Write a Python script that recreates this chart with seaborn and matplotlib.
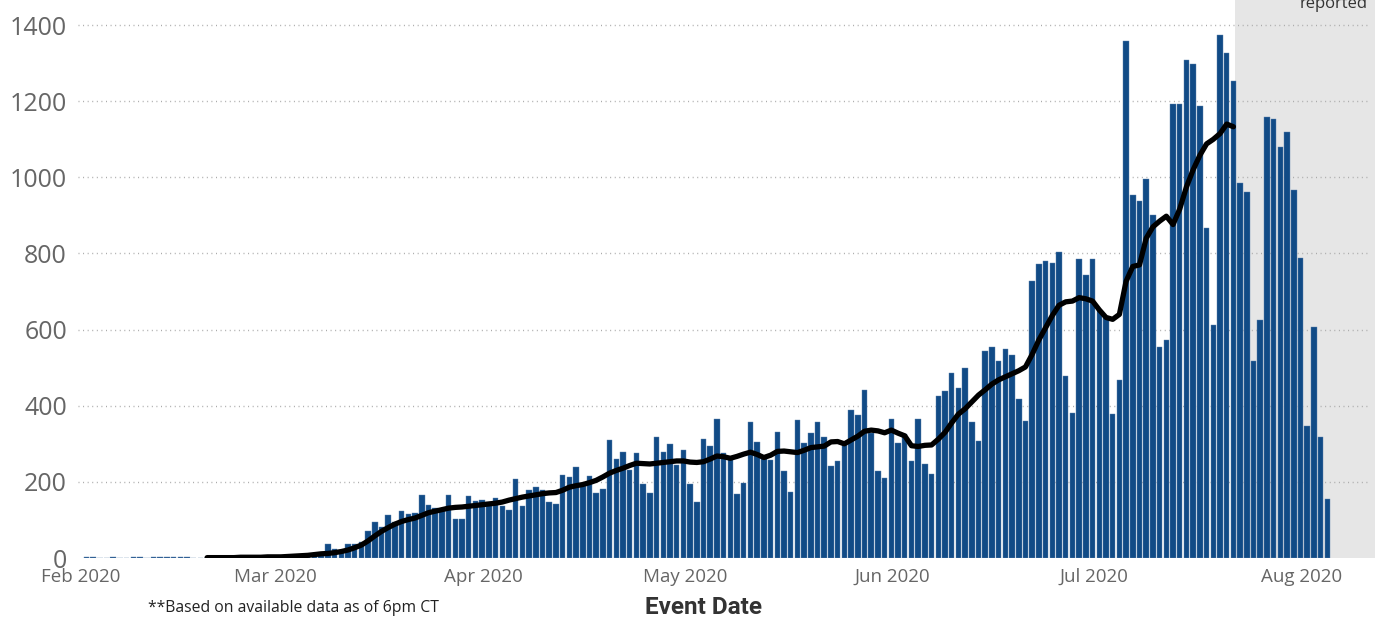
import pandas as pd
import matplotlib
matplotlib.use("Agg")
import matplotlib.pyplot as plt
import matplotlib.dates as mdates
import seaborn as sns

# daily cases by event date, starting 2020-02-01
first_day = "2020-02-01"
daily_cases = [
    2, 2, 0, 1, 2, 0, 0, 2, 2, 0, 2, 2, 2, 2, 2, 2, 1, 0, 1, 1,
    0, 1, 1, 2, 1, 3, 2, 3, 4, 3, 5, 6, 8, 7, 10, 14,
    36, 24, 20, 36, 38, 41, 71, 95, 81, 113, 95, 123, 115, 118, 165, 139,
    132, 125, 165, 102, 102, 163, 150, 152, 148, 157, 137, 126, 207, 137,
    179, 186, 179, 147, 142, 217, 214, 238, 190, 215, 172, 182, 310, 259,
    278, 231, 277, 194, 170, 319, 278, 300, 244, 283, 194, 148, 312, 293,
    365, 277, 262, 168, 196, 357, 305, 262, 258, 332, 228, 173, 363, 301,
    329, 356, 317, 242, 254, 297, 389, 377, 442, 328, 228, 210, 366, 303,
    325, 254, 366, 246, 220, 426, 438, 487, 447, 498, 356, 308, 545, 554,
    518, 550, 533, 417, 359, 729, 773, 781, 774, 805, 477, 380, 785, 744,
    785, 651, 630, 378, 468, 1359, 953, 938, 997, 901, 554, 573, 1194, 1194,
    1309, 1297, 1188, 868, 612, 1373, 1327, 1254, 985, 961, 517, 625, 1159,
    1153, 1079, 1118, 966, 789, 346, 608, 318, 154,
]

# 7-day average as drawn, starting 2020-02-19
avg_first_day = "2020-02-19"
avg_cases = [
    1, 1, 1, 1, 1, 2, 2, 2, 2, 3, 3, 3, 4, 5, 6, 7, 9,
    11, 12, 14, 17, 21, 27, 34, 45, 58, 70, 80, 89, 96, 101, 105, 112,
    119, 123, 127, 131, 133, 134, 136, 138, 140, 142, 144, 147, 152, 156,
    160, 163, 166, 169, 171, 172, 178, 186, 190, 193, 198, 204, 213, 223,
    230, 236, 243, 249, 248, 247, 249, 251, 253, 255, 255, 252, 251, 253,
    260, 268, 266, 262, 267, 273, 278, 272, 264, 270, 280, 281, 279, 277,
    283, 290, 292, 294, 305, 306, 300, 310, 320, 333, 336, 334, 329, 336,
    328, 321, 295, 293, 296, 297, 312, 330, 355, 378, 392, 410, 428, 442,
    457, 468, 476, 484, 492, 502, 535, 573, 605, 637, 664, 673, 675, 684,
    681, 675, 652, 632, 627, 640, 727, 766, 770, 840, 870, 885, 898, 876,
    917, 975, 1020, 1058, 1088, 1100, 1115, 1140, 1133,
]

incomplete_from = "2020-07-22"
month_ticks = ["2020-02-01", "2020-03-01", "2020-04-01", "2020-05-01",
               "2020-06-01", "2020-07-01", "2020-08-01"]

bar_color = "#114B86"
shift = pd.Timedelta(hours=19)

df = pd.DataFrame({
    "date": pd.date_range(first_day, periods=len(daily_cases), freq="D") + shift,
    "cases": daily_cases,
})
avg = pd.DataFrame({
    "date": pd.date_range(avg_first_day, periods=len(avg_cases), freq="D") + shift,
    "avg": avg_cases,
})

sns.set_theme(style="white")
plt.rcParams["font.family"] = ["Open Sans", "DejaVu Sans"]

fig = plt.figure(figsize=(13.82, 6.19), dpi=100)
ax = fig.add_axes([78 / 1382, 1 - 558 / 619, (1375 - 78) / 1382, 558 / 619])

x0 = pd.Timestamp(first_day)
ax.set_xlim(x0 - pd.Timedelta(hours=11), x0 + pd.Timedelta(days=192.9))
ax.set_ylim(0, 1466)

# gray band for days not fully reported
ax.axvspan(pd.Timestamp(incomplete_from) + pd.Timedelta(hours=1),
           x0 + pd.Timedelta(days=192.9), color="#E6E6E6", zorder=0, lw=0)

for yv in range(200, 1401, 200):
    ax.axhline(yv, color="#A8A8A8", lw=1.0, ls=(0, (0.7, 2.6)), zorder=1,
               xmax=0.996)

ax.bar(df["date"], df["cases"], width=0.82, color=bar_color,
       edgecolor="#5F82AD", linewidth=0.3, zorder=2)
sns.lineplot(data=avg, x="date", y="avg", ax=ax, color="black",
             linewidth=3.8, zorder=3)

ax.set_yticks(range(0, 1401, 200))
ax.set_yticklabels([str(v) for v in range(0, 1401, 200)],
                   fontsize=18, color="#666666")
ax.set_xticks(pd.to_datetime(month_ticks))
ax.xaxis.set_major_formatter(mdates.DateFormatter("%b %Y"))
ax.tick_params(axis="x", labelsize=13.5, colors="#666666", length=0, pad=7)
ax.tick_params(axis="y", length=0, pad=8)
ax.set_xlabel("")
ax.set_ylabel("")
for s in ax.spines.values():
    s.set_visible(False)
ax.grid(False)

fig.text(704 / 1382, 1 - 608 / 619, "Event Date", ha="center", va="center",
         fontsize=17.5, fontweight="semibold", color="#333333",
         family=["Roboto", "DejaVu Sans"])
fig.text(148 / 1382, 1 - 608 / 619, "**Based on available data as of 6pm CT",
         ha="left", va="center", fontsize=11.3, color="#222222")
fig.text(1368 / 1382, 1 - 8 / 619, "reported", ha="right", va="baseline",
         fontsize=12, color="#333333")

fig.savefig("out.png", dpi=100)
